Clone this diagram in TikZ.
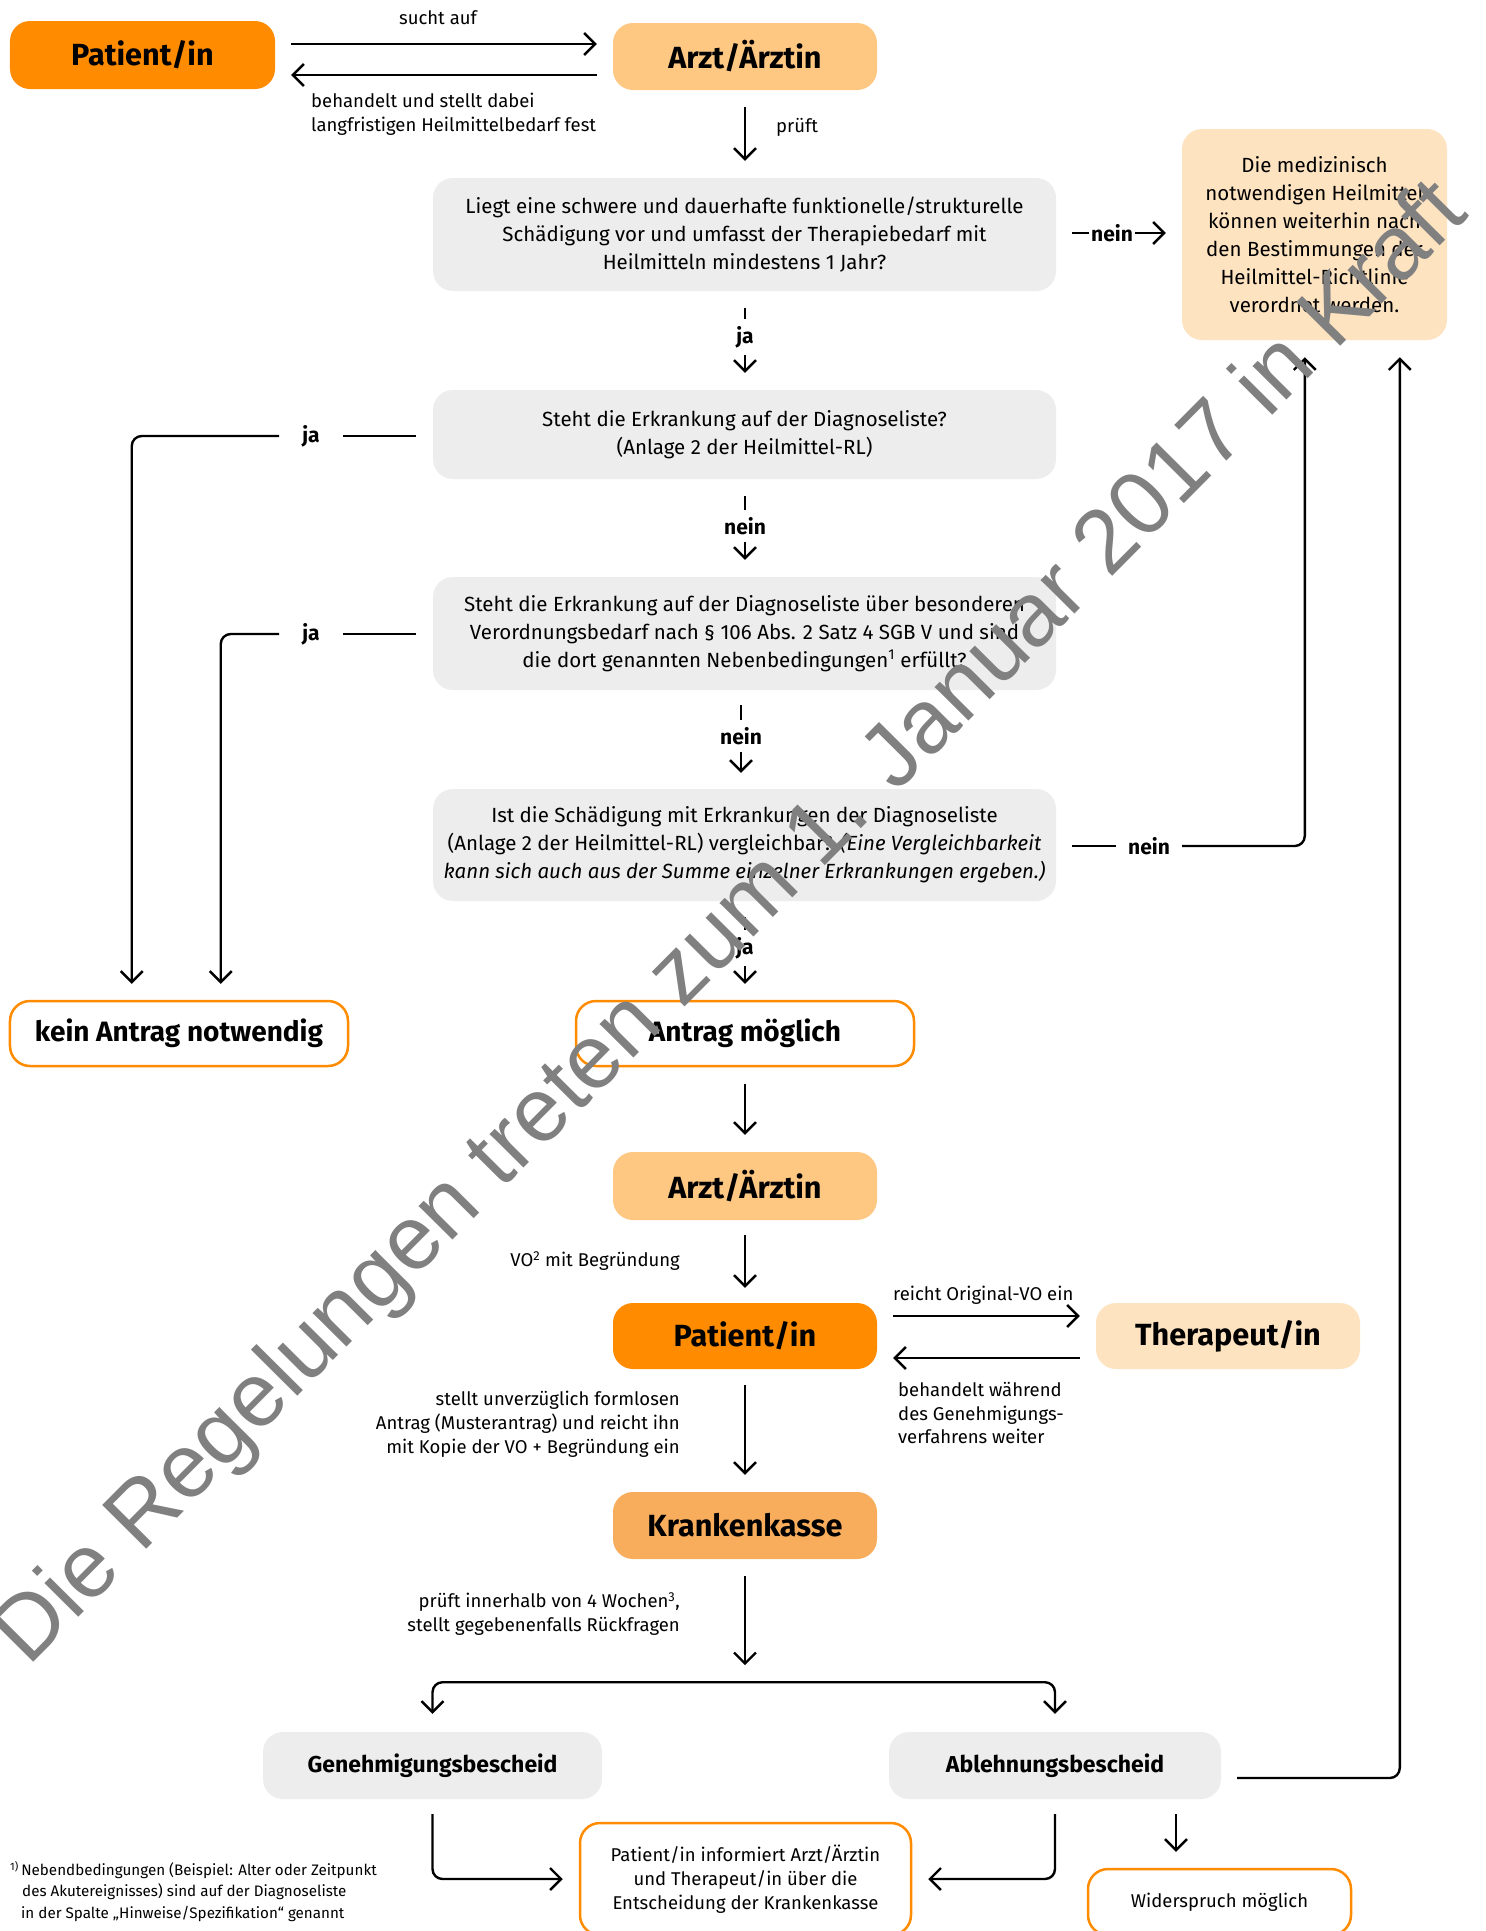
\documentclass[tikz,border=0pt]{standalone}
\usepackage{fontspec}
\setmainfont{Fira Sans}
\newfontfamily\wmfont{Liberation Sans}
\usetikzlibrary{arrows.meta}
\definecolor{dorange}{HTML}{FF8C00}
\definecolor{lorange}{HTML}{FEC782}
\definecolor{peach}{HTML}{FEE3C1}
\definecolor{kkorange}{HTML}{F7AD5C}
\definecolor{boxgray}{HTML}{EDEDED}
\definecolor{wmgray}{HTML}{808080}
\newcommand\mybody{\fontsize{20.5bp}{28bp}\selectfont}
\newcommand\mylab{\fontsize{18.5bp}{23.8bp}\selectfont}
\newcommand\myjn{\fontsize{21bp}{24bp}\selectfont\bfseries}
\newcommand\mytit{\fontsize{28bp}{34bp}\selectfont\bfseries}
\newcommand\myrole{\fontsize{30.6bp}{36bp}\selectfont\bfseries}
\newcommand\mybold{\fontsize{23bp}{28bp}\selectfont\bfseries}
\newcommand\mysmall{\fontsize{18.5bp}{24bp}\selectfont}
\newcommand\myfoot{\fontsize{15.2bp}{21.5bp}\selectfont}
\begin{document}
\begin{tikzpicture}[x=1bp,y=-1bp,
  tbox/.style={rounded corners=20bp, inner sep=0pt, align=center},
  obox/.style={tbox, draw=dorange, line width=2.5bp, fill=white},
  conn/.style={line width=2.4bp, draw=black},
  arr/.style={conn, -{Straight Barb[length=11bp,width=22bp]}},
  lab/.style={font=\mylab, inner sep=0pt},
  jn/.style={font=\myjn, inner xsep=2bp, inner ysep=7bp}]
\useasboundingbox (0,0) rectangle (1486,1931);
\fill[white] (0,0) rectangle (1486,1931);

% nodes
\node[tbox, fill=dorange, minimum width=265bp, minimum height=68bp, font=\myrole] (pat1) at (142.5,55) {Patient/in};
\node[tbox, fill=lorange, minimum width=264bp, minimum height=67bp, font=\myrole] (arzt1) at (745,56.5) {Arzt/Ärztin};
\node[tbox, fill=boxgray, minimum width=623bp, minimum height=113bp, font=\mybody] (q1) at (744.5,234.5)
  {Liegt eine schwere und dauerhafte funktionelle/strukturelle\\Schädigung vor und umfasst der Therapiebedarf mit\\Heilmitteln mindestens 1 Jahr?};
\node[tbox, fill=peach, minimum width=265bp, minimum height=211bp, font=\mybody] (med) at (1314.5,234.5)
  {Die medizinisch\\notwendigen Heilmittel\\können weiterhin nach\\den Bestimmungen der\\Heilmittel-Richtlinie\\verordnet werden.};
\node[tbox, fill=boxgray, minimum width=623bp, minimum height=89bp, font=\mybody] (q2) at (744.5,434.5)
  {Steht die Erkrankung auf der Diagnoseliste?\\(Anlage 2 der Heilmittel-RL)};
\node[tbox, fill=boxgray, minimum width=623bp, minimum height=113bp, font=\mybody] (q3) at (744.5,633.5)
  {Steht die Erkrankung auf der Diagnoseliste über besonderen\\Verordnungsbedarf nach § 106 Abs. 2 Satz 4 SGB V und sind\\die dort genannten Nebenbedingungen\textsuperscript{1} erfüllt?};
\node[tbox, fill=boxgray, minimum width=623bp, minimum height=112bp, font=\mybody] (q4) at (744.5,845)
  {Ist die Schädigung mit Erkrankungen der Diagnoseliste\\(Anlage 2 der Heilmittel-RL) vergleichbar? \textit{(Eine Vergleichbarkeit}\\\textit{kann sich auch aus der Summe einzelner Erkrankungen ergeben.)}};
\node[obox, minimum width=338bp, minimum height=65bp, font=\mytit] (kein) at (179,1033.5) {kein Antrag notwendig};
\node[obox, minimum width=338bp, minimum height=65bp, font=\mytit] (antrag) at (745,1033.5) {Antrag möglich};
\node[tbox, fill=lorange, minimum width=264bp, minimum height=68bp, font=\myrole] (arzt2) at (745,1186) {Arzt/Ärztin};
\node[tbox, fill=dorange, minimum width=264bp, minimum height=66bp, font=\myrole] (pat2) at (745,1336) {Patient/in};
\node[tbox, fill=peach, minimum width=264bp, minimum height=66bp, font=\myrole] (ther) at (1228,1336) {Therapeut/in};
\node[tbox, fill=kkorange, minimum width=264bp, minimum height=67bp, font=\myrole] (kk) at (745,1525.5) {Krankenkasse};
\node[tbox, fill=boxgray, minimum width=339bp, minimum height=67bp, font=\mybold] (gen) at (432.5,1765.5) {Genehmigungsbescheid};
\node[tbox, fill=boxgray, minimum width=332bp, minimum height=67bp, font=\mybold] (abl) at (1055,1765.5) {Ablehnungsbescheid};
\node[obox, minimum width=331bp, minimum height=112bp, font=\mysmall] (info) at (745.5,1879)
  {Patient/in informiert Arzt/Ärztin\\und Therapeut/in über die\\Entscheidung der Krankenkasse};
\node[obox, minimum width=263bp, minimum height=66bp, font=\mysmall] (wid) at (1219.5,1902) {Widerspruch möglich};

% top arrows
\coordinate (a1) at ([yshift=11bp]pat1.east);
\coordinate (a2) at ([yshift=-20bp]pat1.east);
\draw[arr, shorten <=16bp, shorten >=16bp] (a1) -- (a1 -| arzt1.west);
\draw[arr, shorten <=16bp, shorten >=16bp] (a2 -| arzt1.west) -- (a2);
\node[lab] (l1) at (438,18) {sucht auf};
\node[lab, align=left, anchor=west] (l2) at (311,114) {behandelt und stellt dabei\\langfristigen Heilmittelbedarf fest};
\draw[arr, shorten <=17bp, shorten >=17bp] (arzt1.south) -- (arzt1.south |- q1.north);
\node[lab, anchor=west] (l3) at (776,127) {prüft};

% q1 -> med
\node[jn] (n1) at (1112,233) {nein};
\draw[conn, shorten <=16bp] (n1 -| q1.east) -- (n1.west);
\draw[arr, shorten >=16bp] (n1.east) -- (n1 -| med.west);

% q1 -> q2
\node[jn] (j1) at (745,337) {ja};
\draw[conn, shorten <=17bp] (q1.south -| j1) -- (j1.north);
\draw[arr, shorten >=17bp] (j1.south) -- (j1 |- q2.north);

% q2 -> kein
\coordinate (k1) at ([xshift=123bp]kein.north west);
\coordinate (k2) at ([xshift=212bp]kein.north west);
\node[jn, inner xsep=23bp] (j2) at (311,436) {ja};
\draw[conn, shorten <=17bp] (j2 -| q2.west) -- (j2.east);
\draw[arr, rounded corners=10bp, shorten >=16bp] (j2.west) -| (k1);

% q2 -> q3
\node[jn] (n2) at (745,526) {nein};
\draw[conn, shorten <=17bp] (q2.south -| n2) -- (n2.north);
\draw[arr, shorten >=17bp] (n2.south) -- (n2 |- q3.north);

% q3 -> kein
\node[jn, inner xsep=23bp] (j3) at (311,634) {ja};
\draw[conn, shorten <=17bp] (j3 -| q3.west) -- (j3.east);
\draw[arr, rounded corners=10bp, shorten >=16bp] (j3.west) -| (k2);

% q3 -> q4
\node[jn] (n3) at (741,736) {nein};
\draw[conn, shorten <=15bp] (q3.south -| n3) -- (n3.north);
\draw[arr, shorten >=16bp] (n3.south) -- (n3 |- q4.north);

% q4 -> med
\coordinate (m1) at ([xshift=123bp]med.south west);
\coordinate (m2) at ([xshift=218bp]med.south west);
\node[jn, inner xsep=12bp] (n4) at (1149,846) {nein};
\draw[conn, shorten <=16bp] (n4 -| q4.east) -- (n4.west);
\draw[arr, rounded corners=10bp, shorten >=17bp] (n4.east) -| (m1);

% q4 -> antrag
\node[jn] (j4) at (745,948) {ja};
\draw[conn, shorten <=16bp] (q4.south -| j4) -- (j4.north);
\draw[arr, shorten >=16bp] (j4.south) -- (j4 |- antrag.north);

% lower chain
\draw[arr, shorten <=17bp, shorten >=17bp] (antrag.south) -- (arzt2.north);
\draw[arr, shorten <=15bp, shorten >=15bp] (arzt2.south) -- (pat2.north);
\node[lab, anchor=east] (l4) at (680,1261) {VO\textsuperscript{2} mit Begründung};

\coordinate (p1) at ([yshift=20bp]pat2.east);
\coordinate (p2) at ([yshift=-22bp]pat2.east);
\draw[arr, shorten <=16bp, shorten >=16bp] (p1) -- (p1 -| ther.west);
\draw[arr, shorten <=16bp, shorten >=16bp] (p2 -| ther.west) -- (p2);
\node[lab, anchor=west] (l5) at (893,1295) {reicht Original-VO ein};
\node[lab, anchor=west, align=left] (l6) at (898,1413) {behandelt während\\des Genehmigungs-\\verfahrens weiter};

\draw[arr, shorten <=16bp, shorten >=17bp] (pat2.south) -- (kk.north);
\node[lab, anchor=east, align=right] (l7) at (680,1424) {stellt unverzüglich formlosen\\Antrag (Musterantrag) und reicht ihn\\mit Kopie der VO + Begründung ein};

\coordinate (sp) at ([yshift=-123bp]kk.south);
\draw[arr, shorten <=17bp, shorten >=17bp] (kk.south) -- (sp);
\node[lab, anchor=east, align=right] (l8) at (680,1614) {prüft innerhalb von 4 Wochen\textsuperscript{3},\\stellt gegebenenfalls Rückfragen};
\draw[arr, rounded corners=10bp, shorten >=18bp] (sp) -| (gen.north);
\draw[arr, rounded corners=10bp, shorten >=18bp] (sp) -| (abl.north);

% from decisions
\coordinate (a3) at ([yshift=-12.5bp]abl.east);
\draw[arr, rounded corners=10bp, shorten <=16bp, shorten >=17bp] (a3) -| (m2);
\draw[arr, rounded corners=10bp, shorten <=15bp, shorten >=16bp] (gen.south) |- (info.west);
\draw[arr, rounded corners=10bp, shorten <=15bp, shorten >=16bp] (abl.south) |- (info.east);
\coordinate (a4) at ([xshift=121bp]abl.south);
\draw[arr, shorten <=15bp, shorten >=16bp] (a4) -- (a4 |- wid.north);

% footnote
\node[anchor=north west, align=left, font=\myfoot, inner sep=0pt] (fn) at (10,1861)
  {\textsuperscript{1)}\,Nebendbedingungen (Beispiel: Alter oder Zeitpunkt\\\hspace*{12bp}des Akutereignisses) sind auf der Diagnoseliste\\\hspace*{11bp}in der Spalte „Hinweise/Spezifikation“ genannt};

% watermark
\node[font=\wmfont\fontsize{90.3bp}{90bp}\selectfont, text=wmgray, rotate=45.2, anchor=base west, inner sep=0pt] (wm) at (28,1668)
  {Die Regelungen treten zum 1. Januar 2017 in Kraft};
\end{tikzpicture}
\end{document}
